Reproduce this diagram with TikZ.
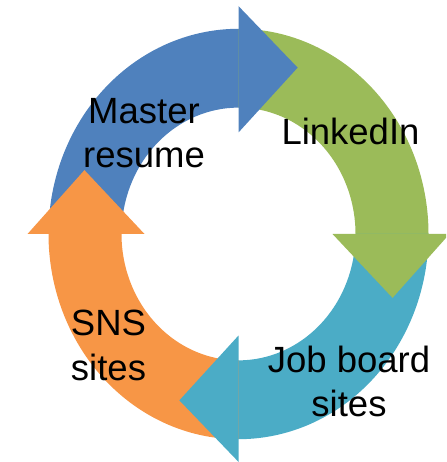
\documentclass[tikz,border=0pt]{standalone}
\usepackage{fontspec}
\setmainfont{Liberation Sans}
\definecolor{cblue}{HTML}{4F81BD}
\definecolor{cgreen}{HTML}{9BBB59}
\definecolor{cteal}{HTML}{4BACC6}
\definecolor{corange}{HTML}{F79646}
\begin{document}
\begin{tikzpicture}[x=1pt,y=1pt,
  lbl/.style={font=\fontsize{36.5}{44.5}\selectfont, align=center, inner sep=0pt, text=black}]
\useasboundingbox (0,0) rectangle (446,462);
\clip (0,0) rectangle (446,462);
\begin{scope}[shift={(238.5,228)}, yscale=1.08]
  % bodies (extended slightly under their own heads to avoid seams)
  \foreach \b/\c in {90/cblue, 0/cgreen, -90/cteal, -180/corange}{
    \fill[\c] ({\b+90}:190) arc[start angle={\b+90}, end angle={\b-2}, radius=190]
      -- ({\b-2}:117) arc[start angle={\b-2}, end angle={\b+90}, radius=117] -- cycle;
  }
  % heads
  \foreach \b/\c in {90/cblue, 0/cgreen, -90/cteal, -180/corange}{
    \fill[\c] (\b:94) -- (\b:211) -- ({\b-21}:165) -- cycle;
  }
\end{scope}
\node[lbl] (master) at (144,329) {Master\\resume};
\node[lbl, anchor=base] (linkedin) at (350.5,317) {LinkedIn};
\node[lbl] (sns) at (108.5,116.5) {SNS\\sites};
\node[lbl] (job) at (349,80.5) {Job board\\sites};
\end{tikzpicture}
\end{document}
